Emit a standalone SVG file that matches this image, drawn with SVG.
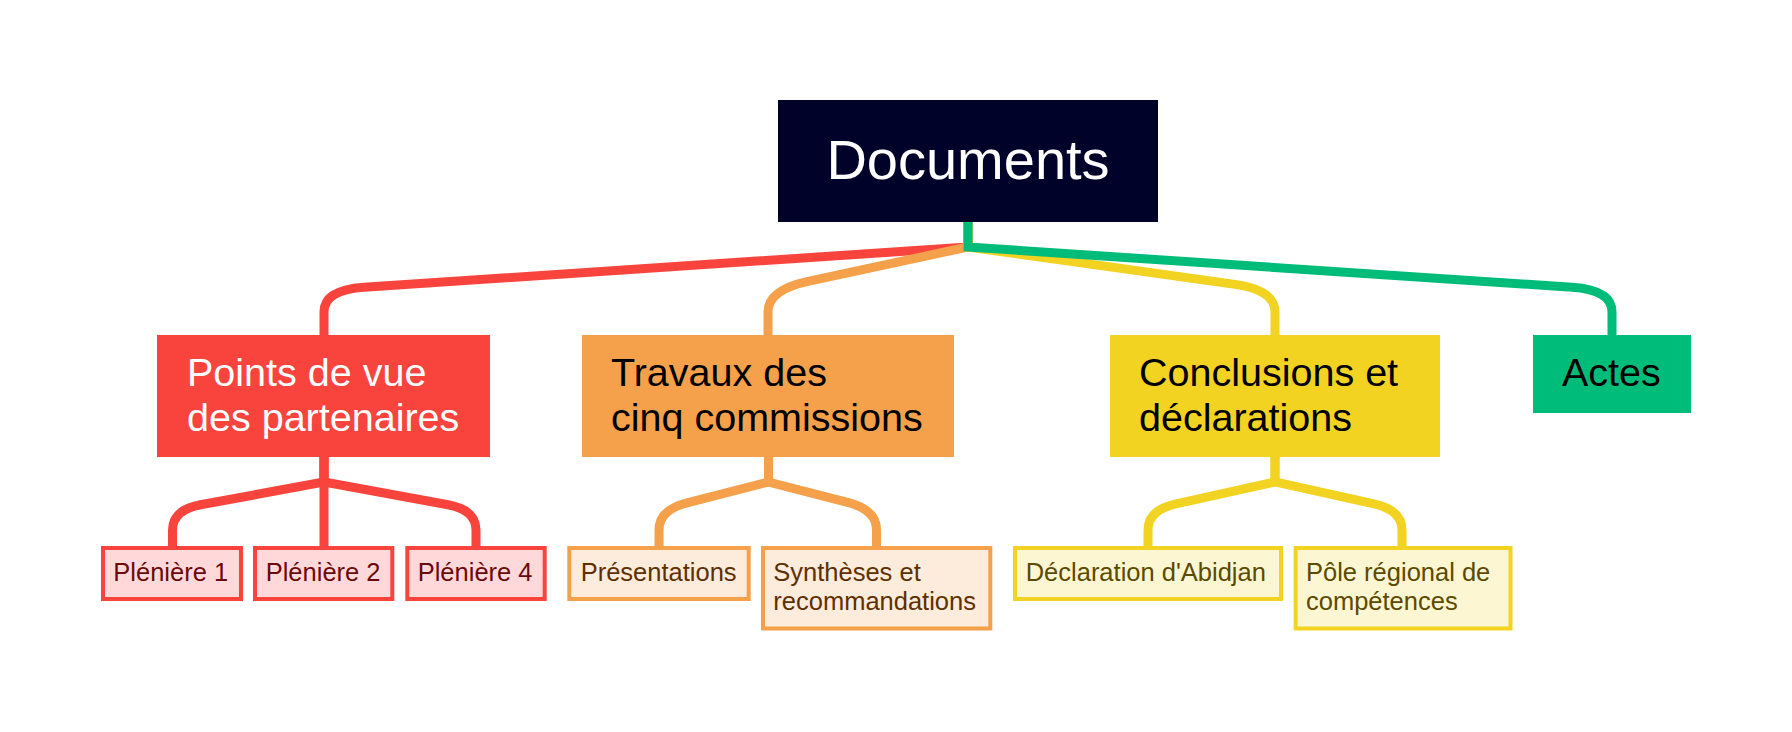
<svg xmlns="http://www.w3.org/2000/svg" width="1792" height="732" viewBox="0 0 1792 732">
<style>
text{font-family:"Liberation Sans",Arial,sans-serif}
.c{fill:none;stroke-width:9;stroke-linejoin:miter}
.r{stroke:#F9443E}.o{stroke:#F5A04B}.y{stroke:#F2D321}.g{stroke:#00BC7A}
.t2{font-size:39.5px}
.t3{font-size:25.5px}
.l3{stroke-width:4}
</style>
<rect width="1792" height="732" fill="#ffffff"/>
<g id="connectors">
<path class="c r" d="M968 222 L968 247 L364 287.3 Q324 290 324 312 L324 335"/>
<path class="c o" d="M968 222 L968 247 L808 281.4 Q768 290 768 312 L768 335"/>
<path class="c y" d="M968 222 L968 247 L1235 284.4 Q1275 290 1275 312 L1275 335"/>
<path class="c g" d="M968 222 L968 247 L1572 287.3 Q1612 290 1612 312 L1612 335"/>
<path class="c r" d="M324 457 L324 482 L200.5 504.8 Q172.5 510 172.5 530 L172.5 546"/>
<path class="c r" d="M324 457 L324 546"/>
<path class="c r" d="M324 457 L324 482 L448 504.8 Q476 510 476 530 L476 546"/>
<path class="c o" d="M768.5 457 L768.5 482 L687 502.8 Q659 510 659 530 L659 546"/>
<path class="c o" d="M768.5 457 L768.5 482 L848.5 502.7 Q876.5 510 876.5 530 L876.5 546"/>
<path class="c y" d="M1275 457 L1275 482 L1176 503.8 Q1148 510 1148 530 L1148 546"/>
<path class="c y" d="M1275 457 L1275 482 L1374 503.8 Q1402 510 1402 530 L1402 546"/>
</g>
<g id="documents">
<rect x="778" y="100" width="380" height="122" fill="#00022A"/>
<text x="968" y="179" font-size="56" fill="#ffffff" text-anchor="middle">Documents</text>
</g>
<g id="points-de-vue">
<rect x="157" y="335" width="333" height="122" fill="#F9443E"/>
<text class="t2" x="187" y="386" fill="#ffffff">Points de vue</text>
<text class="t2" x="187" y="431" fill="#ffffff">des partenaires</text>
</g>
<g id="travaux">
<rect x="582" y="335" width="372" height="122" fill="#F5A04B"/>
<text class="t2" x="611" y="386" fill="#000000">Travaux des</text>
<text class="t2" x="611" y="431" fill="#000000">cinq commissions</text>
</g>
<g id="conclusions">
<rect x="1110" y="335" width="330" height="122" fill="#F2D321"/>
<text class="t2" x="1139" y="386" fill="#000000">Conclusions et</text>
<text class="t2" x="1139" y="431" fill="#000000">déclarations</text>
</g>
<g id="actes">
<rect x="1533" y="335" width="158" height="78" fill="#00BC7A"/>
<text class="t2" x="1562" y="386" fill="#000000">Actes</text>
</g>
<g id="pleniere-1">
<rect class="l3 r" x="103" y="548" width="138" height="51" fill="#FFD9D9"/>
<text class="t3" x="113.3" y="581" fill="#6A0A0A">Plénière 1</text>
</g>
<g id="pleniere-2">
<rect class="l3 r" x="255" y="548" width="137.3" height="51" fill="#FFD9D9"/>
<text class="t3" x="265.7" y="581" fill="#6A0A0A">Plénière 2</text>
</g>
<g id="pleniere-4">
<rect class="l3 r" x="407.3" y="548" width="137.4" height="51" fill="#FFD9D9"/>
<text class="t3" x="417.7" y="581" fill="#6A0A0A">Plénière 4</text>
</g>
<g id="presentations">
<rect class="l3 o" x="569.3" y="548" width="179.4" height="51" fill="#FDEBDB"/>
<text class="t3" x="580.7" y="581" fill="#5E3000">Présentations</text>
</g>
<g id="syntheses">
<rect class="l3 o" x="763" y="548" width="227.3" height="80.5" fill="#FDEBDB"/>
<text class="t3" x="773.3" y="581" fill="#5E3000">Synthèses et</text>
<text class="t3" x="773.3" y="610" fill="#5E3000">recommandations</text>
</g>
<g id="declaration">
<rect class="l3 y" x="1015" y="548" width="266" height="51" fill="#FCF6D2"/>
<text class="t3" x="1025.7" y="581" fill="#5C4A00">Déclaration d'Abidjan</text>
</g>
<g id="pole">
<rect class="l3 y" x="1295.6" y="548" width="214.9" height="80.5" fill="#FCF6D2"/>
<text class="t3" x="1306" y="581" fill="#5C4A00">Pôle régional de</text>
<text class="t3" x="1306" y="610" fill="#5C4A00">compétences</text>
</g>
</svg>
